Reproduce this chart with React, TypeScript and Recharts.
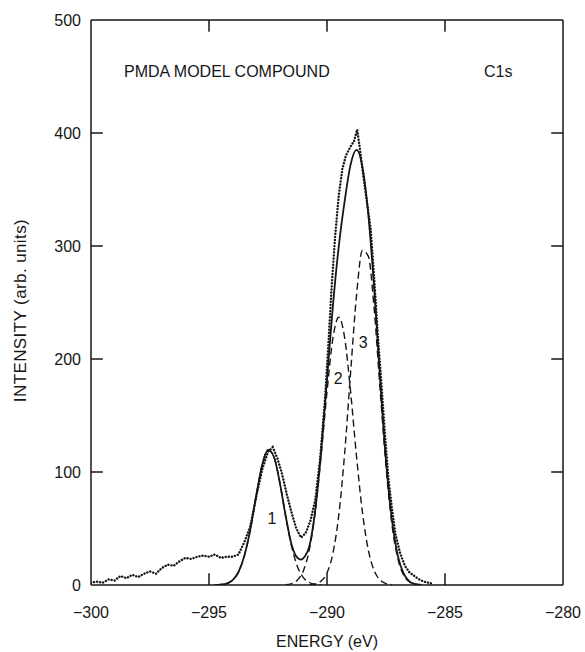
import { LineChart, Line, XAxis, YAxis, ReferenceDot, ReferenceLine } from 'recharts';

type Pt = [number, number];

const energyTicks = [-300, -295, -290, -285, -280];
const innerEnergyTicks = [-295, -290, -285];
const intensityTicks = [0, 100, 200, 300, 400, 500];
const innerIntensityTicks = [100, 200, 300, 400];

// measured spectrum (dotted)
const measured: Pt[] = [
  [-300, 2], [-299.75, 3], [-299.5, 2], [-299.25, 5], [-299, 4], [-298.75, 8], [-298.5, 6],
  [-298.25, 9], [-298, 7], [-297.75, 10], [-297.5, 12], [-297.25, 10], [-297, 15], [-296.75, 18],
  [-296.5, 17], [-296.25, 21], [-296, 24], [-295.75, 23], [-295.5, 25], [-295.25, 26], [-295, 25],
  [-294.75, 27], [-294.5, 24], [-294.25, 25], [-294, 25], [-293.75, 27], [-293.5, 38], [-293.25, 52],
  [-293, 78], [-292.75, 102], [-292.5, 118], [-292.3, 122], [-292.1, 112], [-291.9, 98], [-291.7, 80],
  [-291.5, 64], [-291.3, 50], [-291.1, 42], [-290.9, 46], [-290.7, 57], [-290.5, 75], [-290.3, 110],
  [-290.1, 160], [-289.95, 210], [-289.8, 265], [-289.65, 310], [-289.5, 345], [-289.35, 368],
  [-289.2, 380], [-289, 388], [-288.85, 393], [-288.72, 403], [-288.6, 385], [-288.45, 360],
  [-288.3, 338], [-288.15, 315], [-288, 272], [-287.85, 222], [-287.7, 180], [-287.55, 135],
  [-287.4, 95], [-287.25, 68], [-287.1, 45], [-286.9, 28], [-286.7, 17], [-286.5, 11], [-286.3, 8],
  [-286.1, 5], [-285.9, 3], [-285.7, 2], [-285.5, 1],
];

// fitted envelope (solid)
const fit: Pt[] = [
  [-294.75, 0.1], [-294.5, 0.4], [-294.25, 1.3], [-294, 4.3], [-293.75, 11.5], [-293.5, 26],
  [-293.25, 49], [-293, 79], [-292.75, 106], [-292.5, 119.6], [-292.25, 113.5], [-292, 90.6],
  [-291.75, 61], [-291.5, 35.6], [-291.25, 24], [-291.1, 22.5], [-290.95, 25], [-290.75, 34],
  [-290.5, 66], [-290.25, 118], [-290, 182], [-289.75, 247], [-289.5, 300], [-289.25, 340],
  [-289, 372], [-288.75, 385], [-288.5, 370], [-288.25, 328], [-288, 262], [-287.75, 182],
  [-287.5, 110], [-287.25, 58], [-287, 26], [-286.75, 10], [-286.5, 3], [-286.25, 0.8], [-286, 0.2],
];

// component peaks (dashed)
const peak1: Pt[] = [
  [-294.75, 0.1], [-294.5, 0.4], [-294.25, 1.3], [-294, 4.3], [-293.75, 11.5], [-293.5, 26],
  [-293.25, 49], [-293, 79], [-292.75, 106], [-292.5, 119.6], [-292.25, 113.5], [-292, 90.6],
  [-291.75, 60.7], [-291.5, 34.3], [-291.25, 16.2], [-291, 6.5], [-290.75, 2.2], [-290.5, 0.6],
  [-290.25, 0.1],
];

const peak2: Pt[] = [
  [-291.75, 0.3], [-291.5, 1.3], [-291.25, 4.4], [-291, 12.7], [-290.75, 31], [-290.5, 64.6],
  [-290.25, 114], [-290, 171], [-289.75, 218.5], [-289.5, 237], [-289.25, 218.5], [-289, 171],
  [-288.75, 114], [-288.5, 64.6], [-288.25, 31], [-288, 12.7], [-287.75, 4.4], [-287.5, 1.3],
  [-287.25, 0.3],
];

const peak3: Pt[] = [
  [-290.75, 0.2], [-290.5, 1], [-290.25, 3.5], [-290, 10.7], [-289.75, 28], [-289.5, 62],
  [-289.25, 117], [-289, 188], [-288.75, 256], [-288.5, 296], [-288.25, 291], [-288, 244],
  [-287.75, 173], [-287.5, 105], [-287.25, 53.7], [-287, 23.5], [-286.75, 8.7], [-286.5, 2.7],
  [-286.25, 0.7], [-286, 0.2],
];

const toRows = (pts: Pt[]) => pts.map(([x, y]) => ({ x, y }));

const X_MIN = -300;
const X_MAX = -280;
const Y_MIN = 0;
const Y_MAX = 500;
// inward tick length, in axis units (about 12px on screen)
const TICK_X = 0.5;
const TICK_Y = 10.5;

const FONT = '"Liberation Sans", Arial, Helvetica, sans-serif';
const INK = '#161616';
const tickStyle = { fill: INK, fontSize: 16, fontFamily: FONT };
const minus = (v: number) => String(v).replace('-', '\u2212');

const YTitle = (props: any) => {
  const vb = props.viewBox;
  const cx = vb.x + 20;
  const cy = vb.y + vb.height / 2 + 8;
  return (
    <text
      x={cx}
      y={cy}
      transform={`rotate(-90, ${cx}, ${cy})`}
      textAnchor="middle"
      dominantBaseline="central"
      fill={INK}
      fontSize={17}
      fontFamily={FONT}
      letterSpacing={0.4}
    >
      INTENSITY (arb. units)
    </text>
  );
};

export default function App() {
  const dashed = { stroke: INK, strokeWidth: 1.4, strokeDasharray: '7 4', dot: false, type: 'monotone' as const };
  const frame = { stroke: INK, strokeWidth: 1.5 };
  const note = (value: string, position: any = 'center') => ({
    value,
    position,
    offset: 0,
    fill: INK,
    fontSize: 16,
    fontFamily: FONT,
  });

  const tickSegments = [
    ...innerEnergyTicks.map((t) => [{ x: t, y: Y_MIN }, { x: t, y: Y_MIN + TICK_Y }]),
    ...innerEnergyTicks.map((t) => [{ x: t, y: Y_MAX }, { x: t, y: Y_MAX - TICK_Y }]),
    ...innerIntensityTicks.map((t) => [{ x: X_MIN, y: t }, { x: X_MIN + TICK_X, y: t }]),
    ...innerIntensityTicks.map((t) => [{ x: X_MAX, y: t }, { x: X_MAX - TICK_X, y: t }]),
  ];

  return (
    <div style={{ position: 'absolute', left: 0, top: 0 }}>
      <LineChart width={585} height={652} margin={{ top: 20, right: 22, bottom: 0, left: 0 }}>
        <XAxis
          type="number"
          dataKey="x"
          domain={[X_MIN, X_MAX]}
          ticks={energyTicks}
          tickFormatter={minus}
          tick={tickStyle}
          tickLine={false}
          tickSize={0}
          tickMargin={22}
          height={67}
          allowDataOverflow
          axisLine={frame}
          label={{ value: 'ENERGY (eV)', position: 'insideBottom', offset: 5, fill: INK, fontSize: 16, fontFamily: FONT }}
        />
        <YAxis
          type="number"
          domain={[Y_MIN, Y_MAX]}
          ticks={intensityTicks}
          tick={tickStyle}
          tickLine={false}
          tickSize={0}
          tickMargin={10}
          width={91}
          allowDataOverflow
          axisLine={frame}
          label={{ content: YTitle }}
        />

        <ReferenceLine y={Y_MAX} stroke={INK} strokeWidth={1.5} />
        <ReferenceLine x={X_MAX} stroke={INK} strokeWidth={1.5} />
        {tickSegments.map((seg, i) => (
          <ReferenceLine key={i} segment={seg} stroke={INK} strokeWidth={1.5} />
        ))}

        <Line data={toRows(peak1)} dataKey="y" {...dashed} isAnimationActive={false} />
        <Line data={toRows(peak2)} dataKey="y" {...dashed} isAnimationActive={false} />
        <Line data={toRows(peak3)} dataKey="y" {...dashed} isAnimationActive={false} />
        <Line
          data={toRows(fit)}
          dataKey="y"
          type="monotone"
          stroke={INK}
          strokeWidth={1.8}
          dot={false}
          isAnimationActive={false}
        />
        <Line
          data={toRows(measured)}
          dataKey="y"
          type="linear"
          stroke={INK}
          strokeWidth={2.4}
          strokeDasharray="0.1 3"
          strokeLinecap="round"
          dot={false}
          isAnimationActive={false}
        />

        <ReferenceDot x={-298.6} y={455} r={0} stroke="none" label={note('PMDA MODEL COMPOUND', 'right')} />
        <ReferenceDot x={-283.35} y={455} r={0} stroke="none" label={note('C1s', 'right')} />
        <ReferenceDot x={-292.33} y={59} r={0} stroke="none" label={note('1')} />
        <ReferenceDot x={-289.53} y={183} r={0} stroke="none" label={note('2')} />
        <ReferenceDot x={-288.47} y={215} r={0} stroke="none" label={note('3')} />
      </LineChart>
    </div>
  );
}
